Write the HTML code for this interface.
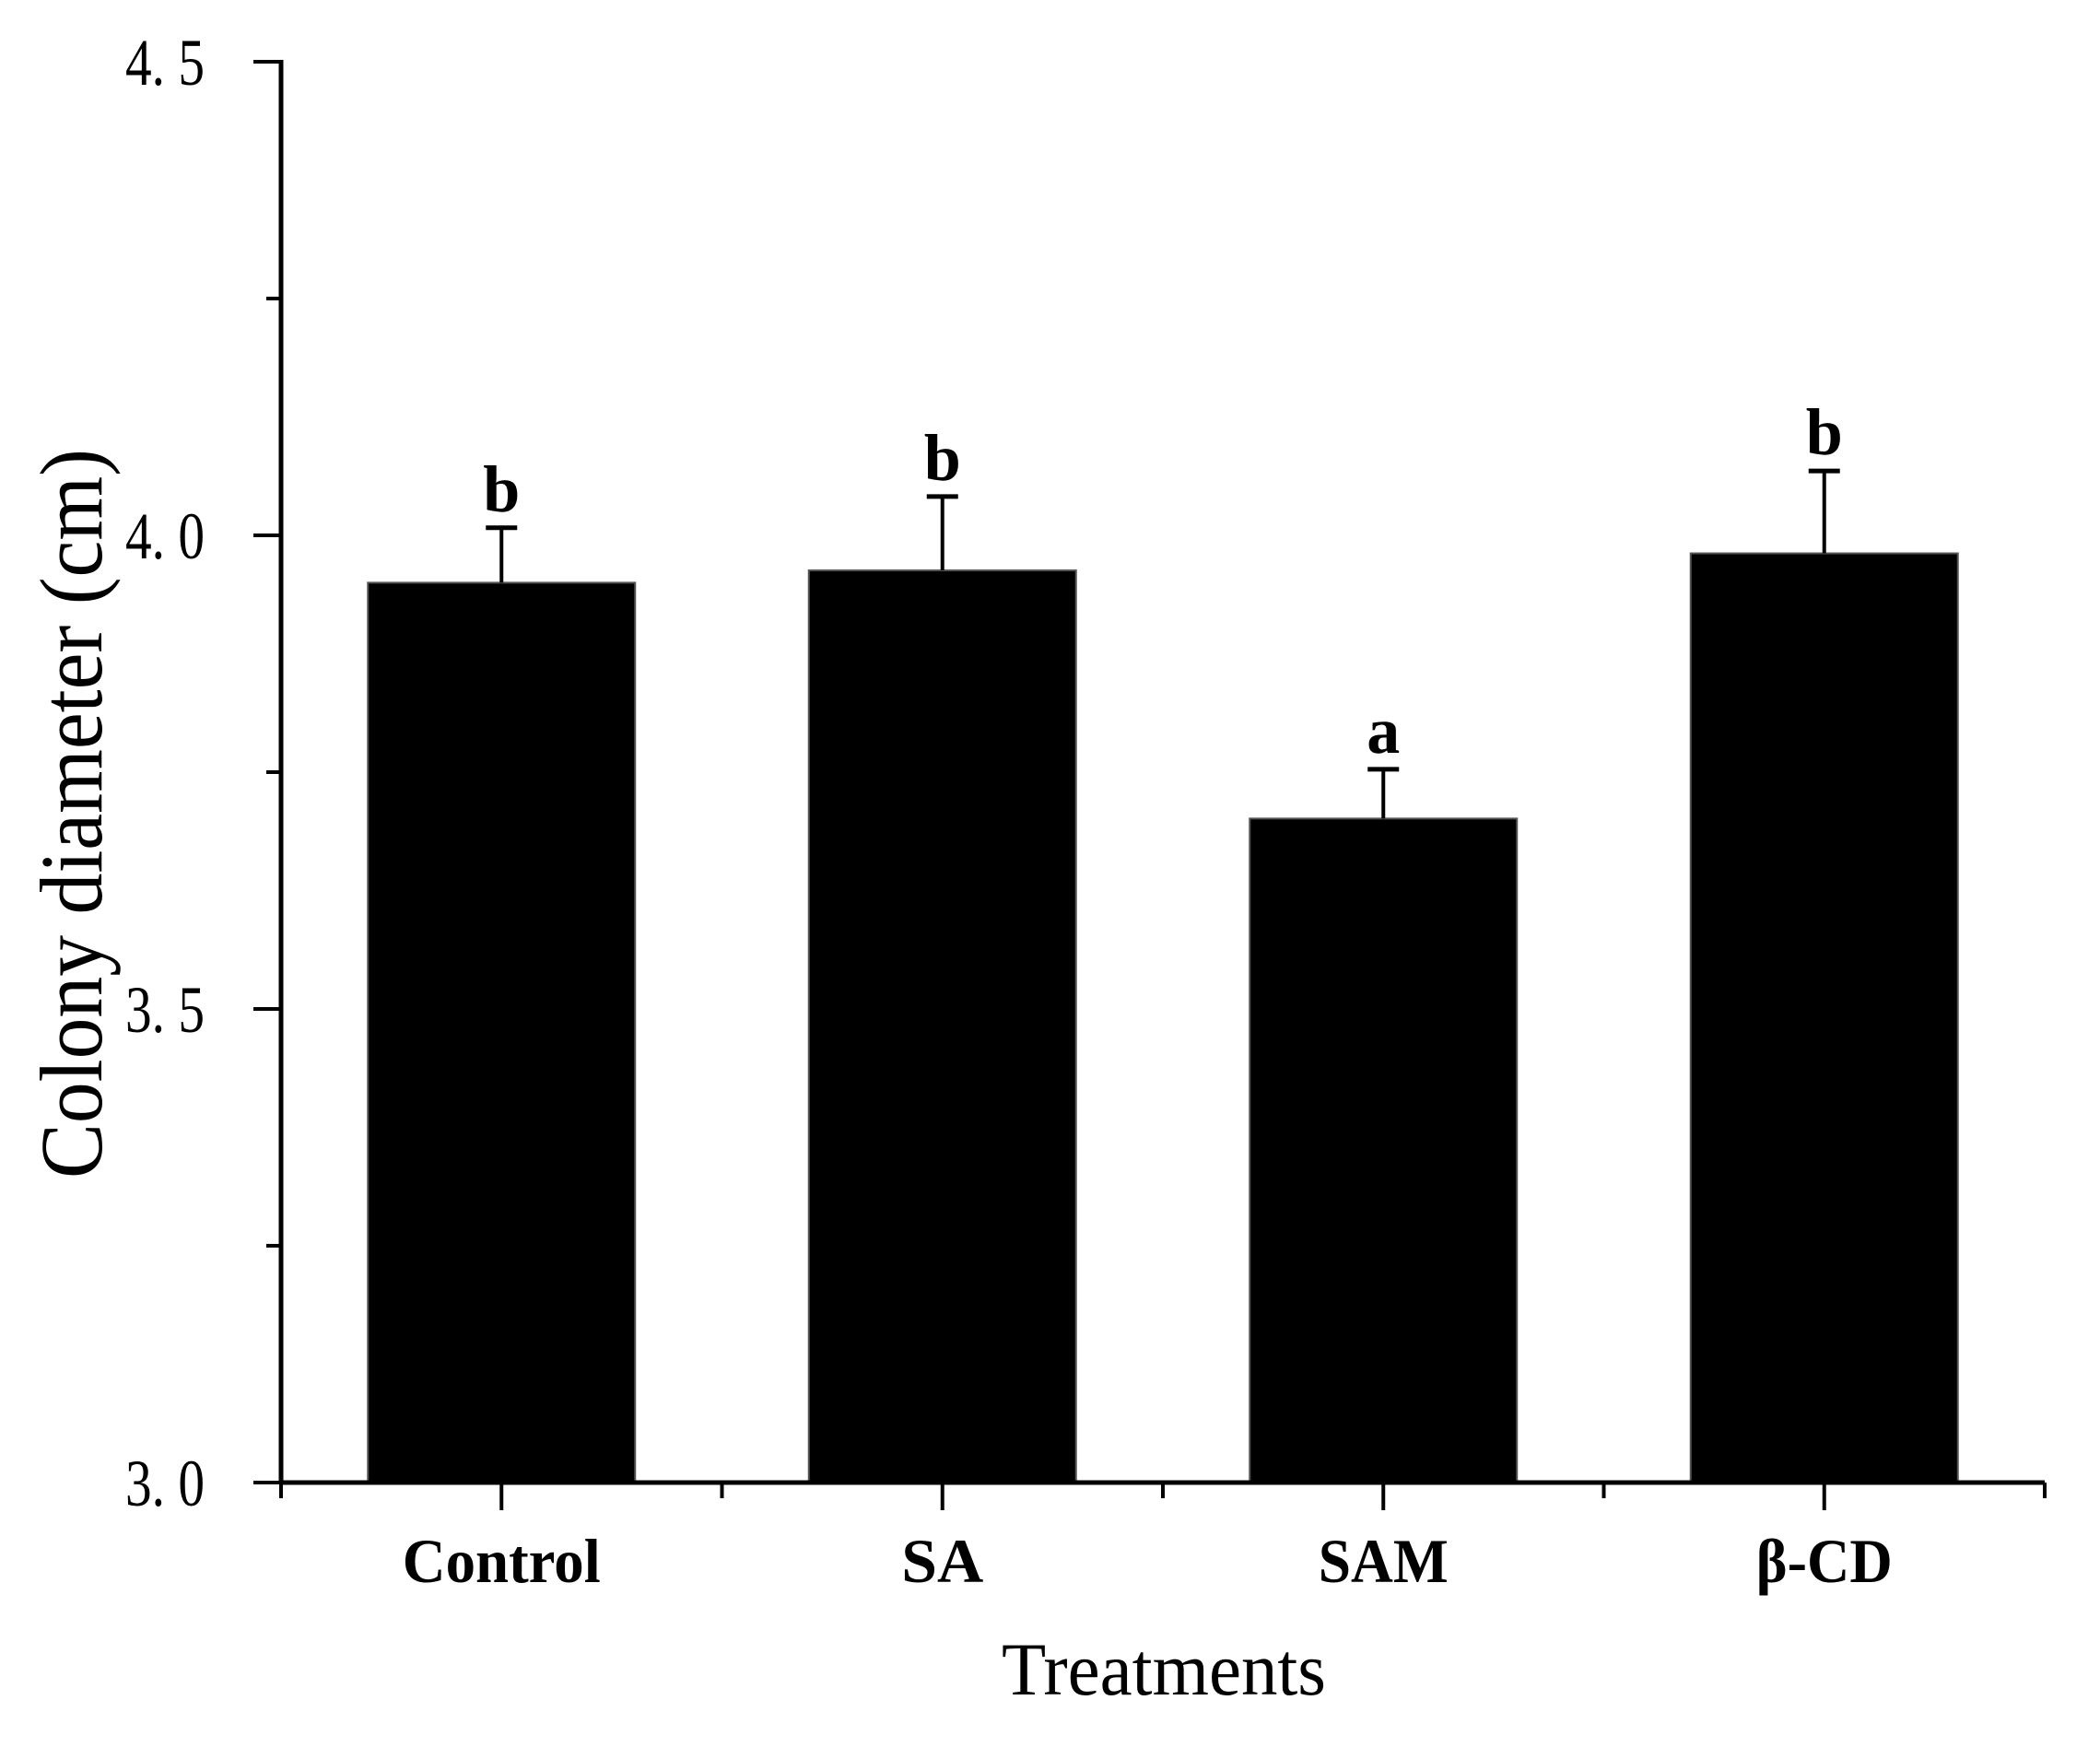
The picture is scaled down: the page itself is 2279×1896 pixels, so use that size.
<!DOCTYPE html>
<html><head><meta charset="utf-8"><style>
html,body{margin:0;padding:0;background:#fff;}
svg{display:block;}
</style></head><body>
<svg id="chart" width="2279" height="1896" viewBox="0 0 2279 1896" xmlns="http://www.w3.org/2000/svg">
<rect x="0" y="0" width="2279" height="1896" fill="#fff"/>
<g id="plot"></g>
<text x="1263" y="1839" text-anchor="middle" font-family="Liberation Serif, serif" font-size="82" textLength="352" lengthAdjust="spacingAndGlyphs">Treatments</text>
<text transform="translate(110,883) rotate(-90)" text-anchor="middle" font-family="Liberation Serif, serif" font-size="96" textLength="792" lengthAdjust="spacingAndGlyphs">Colony diameter (cm)</text>
</svg>
<script>
const categories = ["Control", "SA", "SAM", "\u03b2-CD"];
const means = [3.950, 3.963, 3.701, 3.981];
const errors = [0.058, 0.078, 0.052, 0.087];
const sigLetters = ["b", "b", "a", "b"];
const yTicks = [3.0, 3.5, 4.0, 4.5];
const yTickLabels = ["3. 0", "3. 5", "4. 0", "4. 5"];
const yMinorTicks = [3.25, 3.75, 4.25];
const labelWidths = [215, 89, 141, 148];

const NS = "http://www.w3.org/2000/svg";
const g = document.getElementById("plot");
const X0 = 305, X1 = 2219, Y0 = 1609, Y1 = 67, VMIN = 3.0, VMAX = 4.5;
const band = (X1 - X0) / categories.length;
function xCenter(i){ return X0 + band * (i + 0.5); }
function yScale(v){ return Y0 - (v - VMIN) / (VMAX - VMIN) * (Y0 - Y1); }
function mk(tag, attrs){ const e = document.createElementNS(NS, tag); for (const k in attrs) e.setAttribute(k, attrs[k]); g.appendChild(e); return e; }

const barW = 290;
categories.forEach((c, i) => {
  const cx = xCenter(i);
  const top = yScale(means[i]);
  const bar = mk("rect", {x: cx - barW/2, y: top, width: barW, height: Y0 - top, fill: "#000", stroke: "#555", "stroke-width": 2});
  
  
  const et = yScale(means[i] + errors[i]);
  const el = mk("line", {x1: cx, y1: top, x2: cx, y2: et, stroke: "#000", "stroke-width": 4});
  
  
  const cap = mk("line", {x1: cx - 17, y1: et, x2: cx + 17, y2: et, stroke: "#000", "stroke-width": 5});
  
  
  const lt = mk("text", {x: cx, y: et - 18, "text-anchor": "middle", "font-family": "Liberation Serif, serif", "font-weight": "bold", "font-size": 72});
  lt.textContent = sigLetters[i];
  
  
  const tk = mk("line", {x1: cx, y1: Y0, x2: cx, y2: Y0 + 30, stroke: "#000", "stroke-width": 4});
  
  
  const cl = mk("text", {x: cx, y: 1717, "text-anchor": "middle", "font-family": "Liberation Serif, serif", "font-weight": "bold", "font-size": 68, textLength: labelWidths[i], lengthAdjust: "spacingAndGlyphs"});
  cl.textContent = c;
  
  
});
for (let i = 0; i <= categories.length; i++) {
  const x = X0 + band * i;
  const mt = mk("line", {x1: x, y1: Y0, x2: x, y2: Y0 + 17, stroke: "#000", "stroke-width": 4});
  
  
}
yTicks.forEach((v, i) => {
  const y = yScale(v);
  const t = mk("line", {x1: X0 - 30, y1: y, x2: X0, y2: y, stroke: "#000", "stroke-width": 4});
  
  
  const l = mk("text", {x: 222, y: y + 25, "text-anchor": "end", "font-family": "Liberation Serif, serif", "font-size": 72, textLength: 86, lengthAdjust: "spacingAndGlyphs"});
  l.textContent = yTickLabels[i];
  
  
});
yMinorTicks.forEach(v => {
  const y = yScale(v);
  const t = mk("line", {x1: X0 - 16, y1: y, x2: X0, y2: y, stroke: "#000", "stroke-width": 4});
  
  
});
const ya = mk("line", {x1: X0, y1: Y1 - 2, x2: X0, y2: Y0 + 2, stroke: "#000", "stroke-width": 5});


const xa = mk("line", {x1: X0 - 2, y1: Y0, x2: X1, y2: Y0, stroke: "#000", "stroke-width": 5});


</script>
</body></html>
